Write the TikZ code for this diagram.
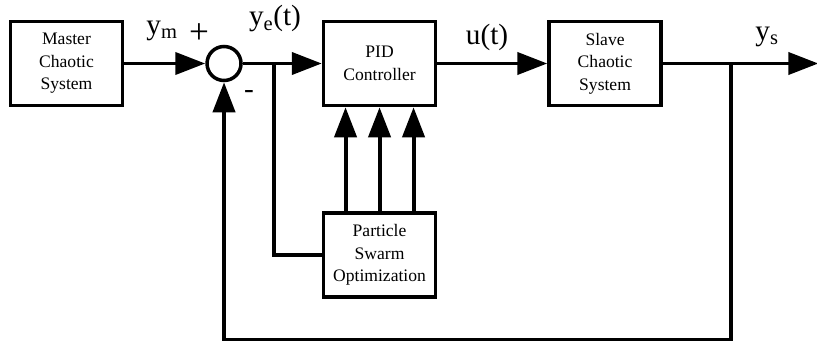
\documentclass[tikz,border=0pt]{standalone}
\usepackage{fontspec}
\setmainfont{Liberation Serif}
\usetikzlibrary{arrows.meta, positioning}
\tikzset{
  sysblock/.style={
    rectangle, draw=black, line width=3pt, fill=white, align=center,
    minimum width=3.36cm, minimum height=2.52cm, inner sep=2pt,
    font=\rmfamily\fontsize{15}{19.2}\selectfont
  },
  sumpoint/.style={circle, draw=black, line width=3pt, minimum size=1.02cm, inner sep=0pt},
  sig/.style={line width=3.4pt, draw=black},
  arrow/.style={sig, -{Triangle[length=0.9cm, width=0.66cm]}},
  siglabel/.style={font=\rmfamily\fontsize{25}{30}\selectfont, inner sep=0pt}
}

\begin{document}
\begin{tikzpicture}[x=0.03cm, y=-0.03cm]
\useasboundingbox (0,0) rectangle (817,341);

% forward path
\node[sysblock] (master) at (66.5,63.5) {Master\\Chaotic\\System};
\node[sumpoint, right=2.43cm of master] (sum) {};
\node[sysblock, right=2.37cm of sum] (pid) {PID\\Controller};
\node[sysblock, right=3.3cm of pid] (slave) {Slave\\Chaotic\\System};
\node[sysblock, below=3.12cm of pid] (pso) {Particle\\Swarm\\Optimization};

\path (sum.east) ++(31.5,0) coordinate (split);
\path (slave.east) ++(68.5,0) coordinate (tap);
\path (slave.east) ++(155.5,0) coordinate (out);

\draw[arrow] (master) -- (sum);
\draw[arrow] (sum) -- (pid);
\draw[arrow] (pid) -- (slave);
\draw[arrow] (slave) -- (out);

% error to the optimizer, gains back to the controller
\draw[sig] (split) |- (pso.west);
\foreach \dx in {-34,0,34}
  \draw[arrow] ([xshift=\dx*0.03cm]pso.north) -- ([xshift=\dx*0.03cm]pid.south);

% feedback of the slave output
\draw[arrow] (tap) -- ++(0,276) -| (sum.south);

% signal labels
\node[siglabel] (ym) at (162,31) {y\textsubscript{m}};
\node[siglabel, font=\rmfamily\fontsize{30}{30}\selectfont] (plus) at (199,34) {+};
\node[siglabel] (minus) at (249,95) {-};
\node[siglabel] (ye) at (275,19) {y\textsubscript{e}(t)};
\node[siglabel] (ut) at (487,37) {u(t)};
\node[siglabel] (ys) at (767,37) {y\textsubscript{s}};

\end{tikzpicture}
\end{document}
